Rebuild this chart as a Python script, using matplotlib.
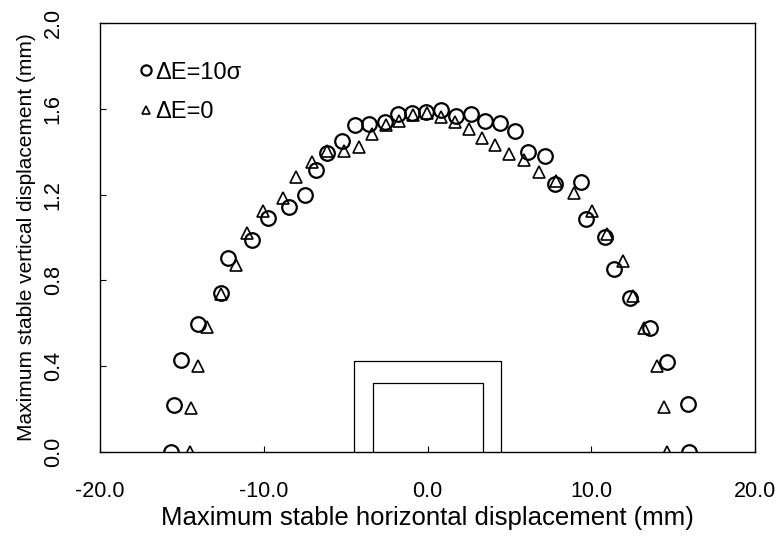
import matplotlib
matplotlib.use("Agg")
import matplotlib.pyplot as plt

plt.rcParams['font.family'] = ['Liberation Sans', 'DejaVu Sans']

# Stability boundary, Delta E = 10 sigma (circles)
x_10s = [-15.66, -15.48, -15.05, -14.02, -12.61, -12.18, -10.72, -9.74, -8.46,
         -7.48, -6.81, -6.14, -5.22, -4.43, -3.57, -2.60, -1.80, -0.95, -0.09,
         0.82, 1.74, 2.66, 3.51, 4.43, 5.34, 6.14, 7.18, 7.79, 9.37, 9.68,
         10.84, 11.39, 12.37, 13.59, 14.63, 15.92, 15.98]
y_10s = [0.0, 0.219, 0.429, 0.597, 0.741, 0.904, 0.988, 1.091, 1.142,
         1.198, 1.315, 1.394, 1.450, 1.524, 1.529, 1.538, 1.576, 1.580, 1.585,
         1.594, 1.566, 1.576, 1.543, 1.534, 1.496, 1.399, 1.380, 1.249, 1.259, 1.086,
         1.002, 0.853, 0.718, 0.578, 0.420, 0.224, 0.0]

# Stability boundary, Delta E = 0 (triangles)
x_0 = [-14.50, -14.44, -14.02, -13.47, -12.61, -11.69, -11.02, -10.05, -8.82,
       -8.03, -7.05, -6.14, -5.10, -4.18, -3.39, -2.53, -1.74, -0.89, -0.03,
       0.82, 1.68, 2.53, 3.33, 4.12, 4.98, 5.89, 6.81, 7.85, 8.95, 10.05,
       10.96, 11.94, 12.55, 13.22, 14.02, 14.44, 14.63]
y_0 = [0.0, 0.205, 0.401, 0.583, 0.737, 0.872, 1.021, 1.124, 1.184,
       1.282, 1.352, 1.403, 1.403, 1.422, 1.483, 1.524, 1.543, 1.571, 1.580,
       1.562, 1.538, 1.506, 1.464, 1.431, 1.389, 1.361, 1.305, 1.263, 1.207, 1.124,
       1.016, 0.890, 0.727, 0.578, 0.401, 0.210, 0.0]

# Outlines of the two reference boxes: (half-width, height)
outer_box = (4.5, 0.424)
inner_box = (3.36, 0.322)

x_ticks = [-20.0, -10.0, 0.0, 10.0, 20.0]
y_ticks = [0.0, 0.4, 0.8, 1.2, 1.6, 2.0]

fig = plt.figure(figsize=(7.81, 5.38), dpi=100)
ax = fig.add_axes([0.128, 0.160, 0.839, 0.797])

ax.plot(x_10s, y_10s, linestyle='none', marker='o', markersize=10.5,
        markerfacecolor='none', markeredgecolor='black', markeredgewidth=1.6,
        label='ΔE=10σ')
ax.plot(x_0, y_0, linestyle='none', marker='^', markersize=8.5,
        markerfacecolor='none', markeredgecolor='black', markeredgewidth=1.2,
        label='ΔE=0')

for half_w, h in (outer_box, inner_box):
    ax.plot([-half_w, -half_w, half_w, half_w], [0, h, h, 0],
            color='black', linewidth=0.9)

ax.set_xlim(-20, 20)
ax.set_ylim(0, 2.0)
ax.set_xticks(x_ticks)
ax.set_xticklabels([f'{v:.1f}' for v in x_ticks])
ax.set_yticks(y_ticks)
ax.set_yticklabels([f'{v:.1f}' for v in y_ticks], rotation=90, va='center')
ax.tick_params(direction='in', length=4, width=0.8, labelsize=15.5)
ax.tick_params(axis='x', pad=21)
ax.tick_params(axis='y', pad=26)
for s in ax.spines.values():
    s.set_linewidth(1.0)

ax.set_xlabel('Maximum stable horizontal displacement (mm)', fontsize=18.5, labelpad=3)
ax.set_ylabel('Maximum stable vertical displacement (mm)', fontsize=15, labelpad=5)

ax.legend(loc='upper left', bbox_to_anchor=(0.061, 0.91), frameon=False,
          handlelength=0.5, handletextpad=0.15, labelspacing=0.75,
          markerscale=0.7, fontsize=17, borderaxespad=0, borderpad=0)

fig.savefig('out.png', dpi=100)
